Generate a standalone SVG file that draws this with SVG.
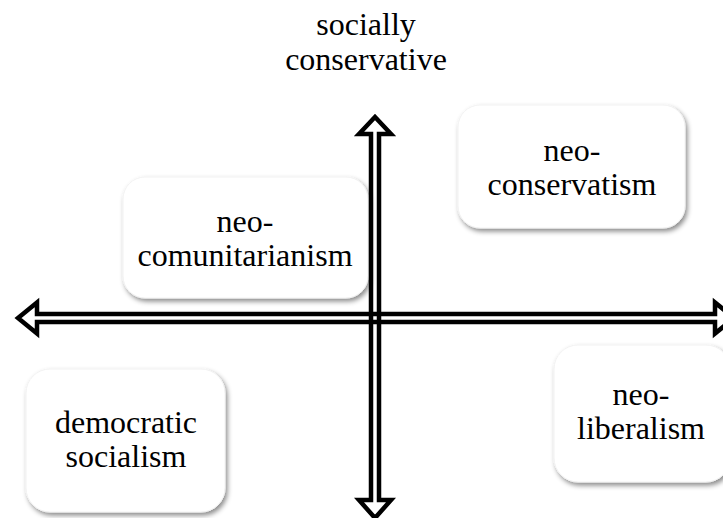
<svg xmlns="http://www.w3.org/2000/svg" width="723" height="518" viewBox="0 0 723 518">
<defs>
<filter id="sh" x="-10%" y="-10%" width="125%" height="130%">
<feDropShadow dx="2" dy="3" stdDeviation="2.5" flood-color="#000" flood-opacity="0.45"/>
</filter>
</defs>
<style>
.box{fill:#fff;stroke:#f2f2f2;stroke-width:1;filter:url(#sh)}
.ax{fill:none;stroke:#000;stroke-width:4.5;stroke-linejoin:miter;stroke-miterlimit:10}
</style>
<rect width="723" height="518" fill="#fff"/>
<g font-family="Liberation Serif, DejaVu Serif, serif" font-size="32" fill="#000" text-anchor="middle">
<text x="366" y="35">socially</text>
<text x="366" y="70">conservative</text>
<g id="neo-conservatism">
<rect class="box" x="458" y="105" width="227" height="123" rx="22"/>
<text x="572" y="161">neo-</text>
<text x="572" y="195">conservatism</text>
</g>
<g id="neo-comunitarianism">
<rect class="box" x="123" y="177" width="245" height="121" rx="22"/>
<text x="245" y="232">neo-</text>
<text x="245" y="266">comunitarianism</text>
</g>
<g id="democratic-socialism">
<rect class="box" x="26" y="369" width="199" height="143" rx="24"/>
<text x="126" y="433">democratic</text>
<text x="126" y="467">socialism</text>
</g>
<g id="neo-liberalism">
<rect class="box" x="554" y="345" width="176" height="137" rx="24"/>
<text x="641" y="405">neo-</text>
<text x="641" y="439">liberalism</text>
</g>
</g>
<g id="connectors">
<path class="ax" d="M371,134 L359,134 L375,117 L391,134 L379,134 L379,500 L391,500 L375,518 L359,500 L371,500 Z"/>
<path class="ax" d="M37,314 L37,302.5 L18,318 L37,333.5 L37,322 L715,322 L715,333.5 L734,318 L715,302.5 L715,314 Z"/>
</g>
</svg>
